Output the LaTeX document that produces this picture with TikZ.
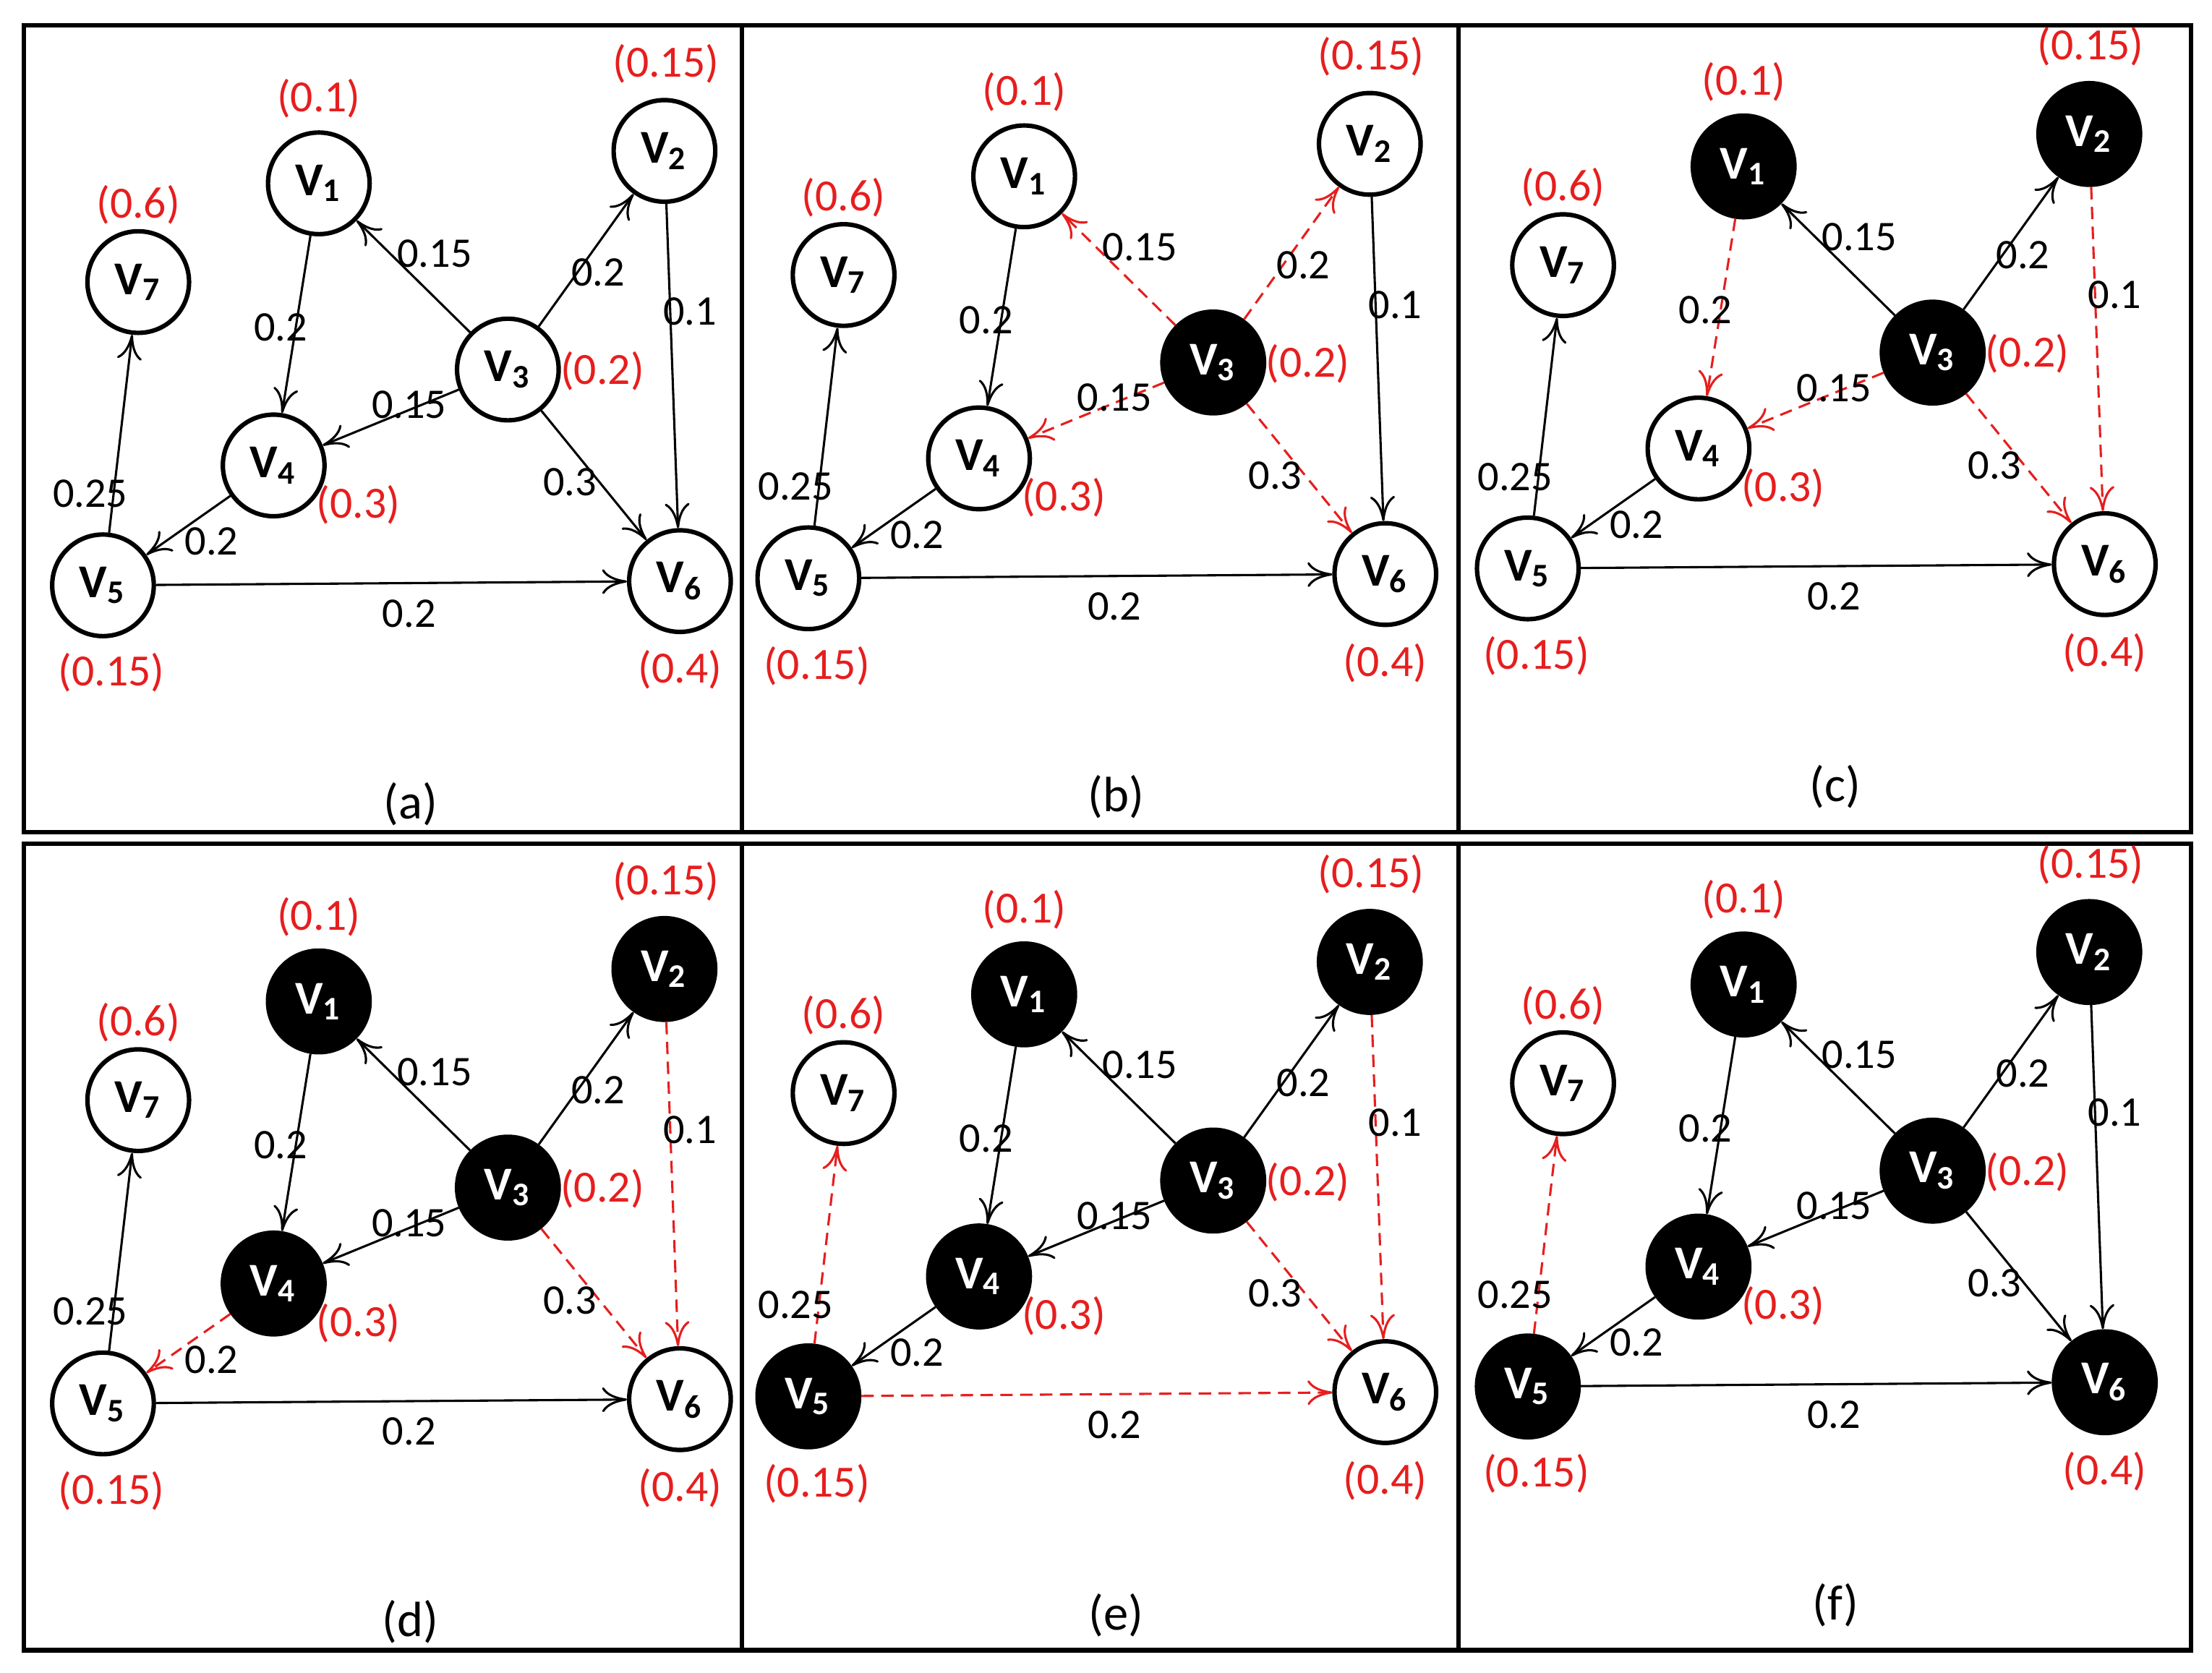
\documentclass[tikz,border=0pt]{standalone}
\usepackage{fontspec}
\setmainfont{Carlito}
\usetikzlibrary{arrows.meta}
\definecolor{rd}{RGB}{230,30,30}
\tikzset{x=0.01cm,y=-0.01cm,
 n/.style={circle,draw=black,line width=0.9pt,fill=white,minimum size=0.72cm,inner sep=0pt,font=\fontsize{9.5}{10}\selectfont\bfseries},
 bk/.style={fill=black,text=white},
 e/.style={line width=0.45pt,-{To[length=5pt,width=5pt]}},
 rdash/.style={draw=rd,dashed,dash pattern=on 2.5pt off 1.5pt},
 lb/.style={font=\fontsize{8.5}{9}\selectfont,inner sep=0pt},
 rl/.style={font=\fontsize{9}{10}\selectfont,text=rd,inner sep=0pt},
 n1/.style={},n2/.style={},n3/.style={},n4/.style={},n5/.style={},n6/.style={},n7/.style={},
 e31/.style={},e32/.style={},e26/.style={},e14/.style={},e34/.style={},e36/.style={},e45/.style={},e57/.style={},e56/.style={}}
\newcommand\drawpanel[4]{%
\begin{scope}[shift={(#1,#2)}]
 \node[n,n1] (#3-1) at (226,130) {V\textsubscript{1}};
 \node[n,n2] (#3-2) at (471,107) {V\textsubscript{2}};
 \node[n,n3] (#3-3) at (360,262) {V\textsubscript{3}};
 \node[n,n4] (#3-4) at (194,330) {V\textsubscript{4}};
 \node[n,n5] (#3-5) at (73,415) {V\textsubscript{5}};
 \node[n,n6] (#3-6) at (482,412) {V\textsubscript{6}};
 \node[n,n7] (#3-7) at (98,200) {V\textsubscript{7}};
 \draw[e,e31] (#3-3) -- (#3-1);
 \draw[e,e32] (#3-3) -- (#3-2);
 \draw[e,e26] (#3-2) -- (#3-6);
 \draw[e,e14] (#3-1) -- (#3-4);
 \draw[e,e34] (#3-3) -- (#3-4);
 \draw[e,e36] (#3-3) -- (#3-6);
 \draw[e,e45] (#3-4) -- (#3-5);
 \draw[e,e57] (#3-5) -- (#3-7);
 \draw[e,e56] (#3-5) -- (#3-6);
 \node[rl] (#3-r1) at (226,70) {(0.1)};
 \node[rl] (#3-r2) at (472,45) {(0.15)};
 \node[rl] (#3-r7) at (98,145) {(0.6)};
 \node[rl] (#3-r3) at (427,263) {(0.2)};
 \node[rl] (#3-r4) at (254,358) {(0.3)};
 \node[rl] (#3-r5) at (79,477) {(0.15)};
 \node[rl] (#3-r6) at (482,475) {(0.4)};
 \node[lb] (#3-l31) at (308,180) {0.15};
 \node[lb] (#3-l32) at (424,193) {0.2};
 \node[lb] (#3-l26) at (489,221) {0.1};
 \node[lb] (#3-l14) at (199,232) {0.2};
 \node[lb] (#3-l34) at (290,287) {0.15};
 \node[lb] (#3-l36) at (404,342) {0.3};
 \node[lb] (#3-l57) at (64,350) {0.25};
 \node[lb] (#3-l45) at (150,384) {0.2};
 \node[lb] (#3-l56) at (290,435) {0.2};
\end{scope}
\node[font=\fontsize{10}{11}\selectfont] (#3-cap) at (291+#1,570+#2) {(#4)};}
\begin{document}
\begin{tikzpicture}
\useasboundingbox (0,0) rectangle (1568,1186);
\fill[white] (0,0) rectangle (1568,1186);
\draw[line width=0.9pt] (17,18) rectangle (1553,590) (17,598) rectangle (1553,1170)
 (526,18)--(526,590) (1034,18)--(1034,590) (526,598)--(526,1170) (1034,598)--(1034,1170);
\drawpanel{0}{0}{a}{a}
\begin{scope}
\tikzset{n3/.style=bk,e31/.style=rdash,e32/.style=rdash,e34/.style=rdash,e36/.style=rdash}
\drawpanel{500}{-5}{b}{b}
\end{scope}
\begin{scope}
\tikzset{n1/.style=bk,n2/.style=bk,n3/.style=bk,e14/.style=rdash,e34/.style=rdash,e26/.style=rdash,e36/.style=rdash}
\drawpanel{1010}{-12}{c}{c}
\end{scope}
\begin{scope}
\tikzset{n1/.style=bk,n2/.style=bk,n3/.style=bk,n4/.style=bk,e45/.style=rdash,e26/.style=rdash,e36/.style=rdash}
\drawpanel{0}{580}{d}{d}
\end{scope}
\begin{scope}
\tikzset{n1/.style=bk,n2/.style=bk,n3/.style=bk,n4/.style=bk,n5/.style=bk,e57/.style=rdash,e56/.style=rdash,e26/.style=rdash,e36/.style=rdash}
\drawpanel{500}{575}{e}{e}
\end{scope}
\begin{scope}
\tikzset{n1/.style=bk,n2/.style=bk,n3/.style=bk,n4/.style=bk,n5/.style=bk,n6/.style=bk,e57/.style=rdash}
\drawpanel{1010}{568}{f}{f}
\end{scope}
\end{tikzpicture}
\end{document}
